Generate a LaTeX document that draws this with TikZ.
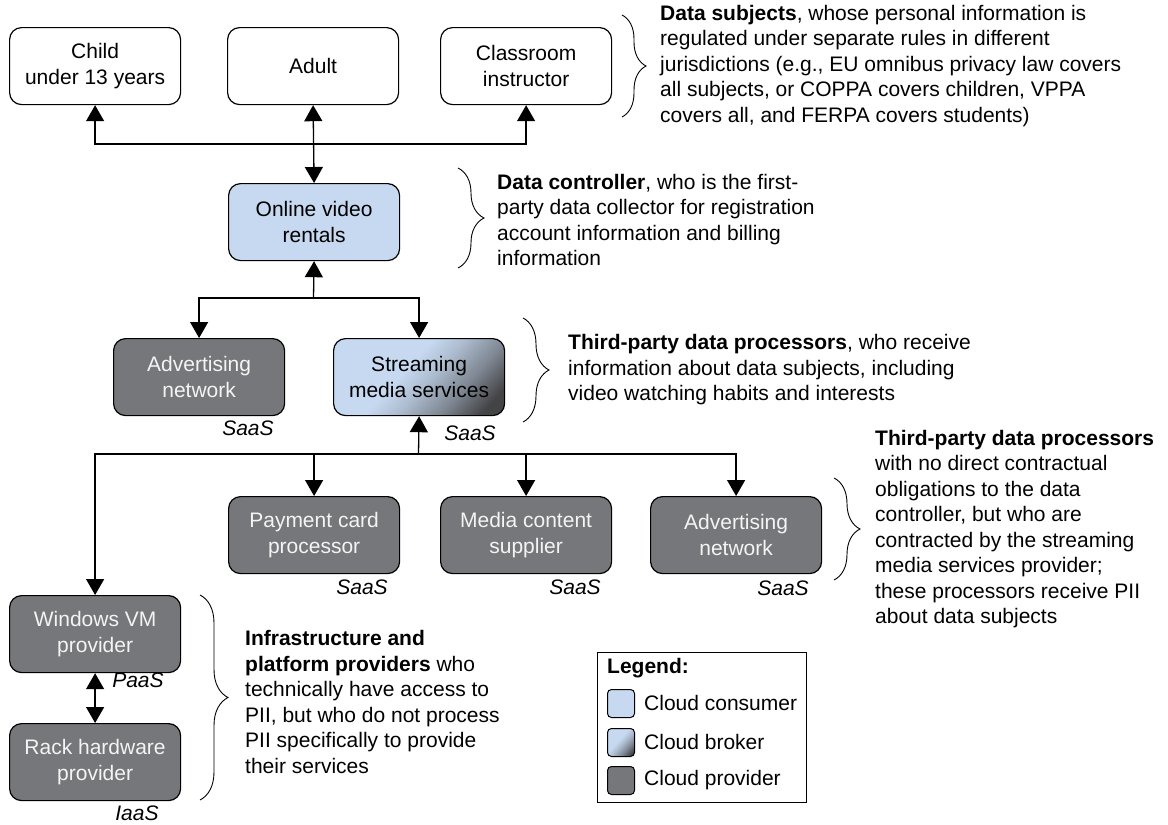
\documentclass[tikz,border=0pt]{standalone}
\usepackage{fontspec}
\setmainfont{Liberation Sans}
\usetikzlibrary{arrows.meta,decorations.pathreplacing}
\definecolor{consumer}{HTML}{C6D9F0}
\definecolor{provider}{HTML}{76777A}
\definecolor{provtext}{HTML}{F4F4F4}
\definecolor{brokdark}{HTML}{444446}
\pgfdeclareverticalshading{brokershade}{100bp}{color(0bp)=(brokdark); color(22bp)=(brokdark); color(34bp)=(consumer!45!brokdark); color(47bp)=(consumer!82!brokdark); color(56bp)=(consumer); color(100bp)=(consumer)}
\tikzset{
  every node/.style={font=\fontsize{21}{25.5}\selectfont},
  base/.style={draw=black, line width=1.2pt, rounded corners=12pt, minimum width=171pt, minimum height=77pt, align=center, inner sep=0pt, anchor=north west},
  subj/.style={base, fill=white},
  cons/.style={base, fill=consumer},
  prov/.style={base, fill=provider, text=provtext},
  brok/.style={base, shade, shading=brokershade, shading angle=48},
  arr/.style={-{Triangle[width=18pt,length=16pt]}, line width=1.3pt},
  darr/.style={{Triangle[width=18pt,length=16pt]}-{Triangle[width=18pt,length=16pt]}, line width=1.3pt},
  br/.style={decorate, decoration={brace, amplitude=#1}, line width=0.9pt},
  note/.style={anchor=west, align=left, inner sep=0pt},
  tag/.style={font=\fontsize{21}{25}\selectfont\itshape, inner sep=0pt},
  swatch/.style={draw=black, line width=1pt, rounded corners=4pt, minimum width=27pt, minimum height=28pt, inner sep=0pt, anchor=north west}
}
\begin{document}
\begin{tikzpicture}[x=1pt,y=-1pt]
\useasboundingbox (0,0) rectangle (1168,825);

% data subjects
\node[subj] (child) at (9,27) {Child\\under 13 years};
\node[subj] (adult) at (227,27) {Adult};
\node[subj] (classroom) at (440,27) {Classroom\\instructor};

% controller
\node[cons] (online) at (228,183) {Online video\\rentals};

% processors
\node[prov] (adv) at (113,338) {Advertising\\network};
\node[brok] (stream) at (333,338) {Streaming\\media services};

\node[prov] (pay) at (228,496) {Payment card\\processor};
\node[prov] (media) at (440,496) {Media content\\supplier};
\node[prov] (adv2) at (650,496) {Advertising\\network};

\node[prov] (win) at (9,595) {Windows VM\\provider};
\node[prov] (rack) at (9,723) {Rack hardware\\provider};

% service tags
\node[tag] (t-adv) at (248,428) {SaaS};
\node[tag] (t-stream) at (470,433) {SaaS};
\node[tag] (t-pay) at (362,587) {SaaS};
\node[tag] (t-media) at (575,587) {SaaS};
\node[tag] (t-adv2) at (783,588) {SaaS};
\node[tag] (t-win) at (138,680) {PaaS};
\node[tag] (t-rack) at (137,813) {IaaS};

% connectors
\coordinate (j1) at (312.5,144);
\draw[darr] (adult.south) -- (online.north);
\draw[arr] (j1) -| (child.south);
\draw[arr] (j1) -| (classroom.south);

\coordinate (j2) at (313.5,298);
\draw[arr] (j2) -- (online.south);
\draw[arr] (j2) -| (adv.north);
\draw[arr] (j2) -| (stream.north);

\coordinate (j3) at (418.5,454);
\draw[arr] (j3) -- (stream.south);
\draw[arr] (j3) -| (win.north);
\draw[arr] (j3) -| (pay.north);
\draw[arr] (j3) -| (media.north);
\draw[arr] (j3) -| (adv2.north);
\draw[darr] (win.south) -- (rack.north);

% braces
\coordinate (b1a) at (622,15);  \coordinate (b1b) at (622,117);
\coordinate (b2a) at (458,168); \coordinate (b2b) at (458,268);
\coordinate (b3a) at (523,318); \coordinate (b3b) at (523,422);
\coordinate (b4a) at (834,478); \coordinate (b4b) at (834,580);
\coordinate (b5a) at (200,595); \coordinate (b5b) at (200,800);
\draw[br=24pt] (b1a) -- (b1b);
\draw[br=26pt] (b2a) -- (b2b);
\draw[br=26pt] (b3a) -- (b3b);
\draw[br=26pt] (b4a) -- (b4b);
\draw[br=28pt] (b5a) -- (b5b);

% notes
\node[note] (n-subj) at (660,66) {\textbf{Data subjects}, whose personal information is\\regulated under separate rules in different\\jurisdictions (e.g., EU omnibus privacy law covers\\all subjects, or COPPA covers children, VPPA\\covers all, and FERPA covers students)};
\node[note] (n-ctrl) at (497,220) {\textbf{Data controller}, who is the first-\\party data collector for registration\\account information and billing\\information};
\node[note] (n-proc) at (568,370) {\textbf{Third-party data processors}, who receive\\information about data subjects, including\\video watching habits and interests};
\node[note] (n-sub) at (875,529) {\textbf{Third-party data processors}\\with no direct contractual\\obligations to the data\\controller, but who are\\contracted by the streaming\\media services provider;\\these processors receive PII\\about data subjects};
\node[note] (n-infra) at (245,702) {\textbf{Infrastructure and}\\\textbf{platform providers} who\\technically have access to\\PII, but who do not process\\PII specifically to provide\\their services};

% legend
\node[draw=black, line width=1pt, minimum width=209pt, minimum height=150pt, inner sep=0pt, anchor=north west] (legend) at (597,652) {};
\node[note] (l-title) at (607,668) {\textbf{Legend:}};
\node[swatch, fill=consumer] (s-cons) at (607,689) {};
\node[swatch, shade, shading=brokershade, shading angle=48] (s-brok) at (607,728) {};
\node[swatch, fill=provider] (s-prov) at (607,766) {};
\node[note] (l-cons) at (644,703) {Cloud consumer};
\node[note] (l-brok) at (644,742) {Cloud broker};
\node[note] (l-prov) at (644,780) {Cloud provider};
\end{tikzpicture}
\end{document}
